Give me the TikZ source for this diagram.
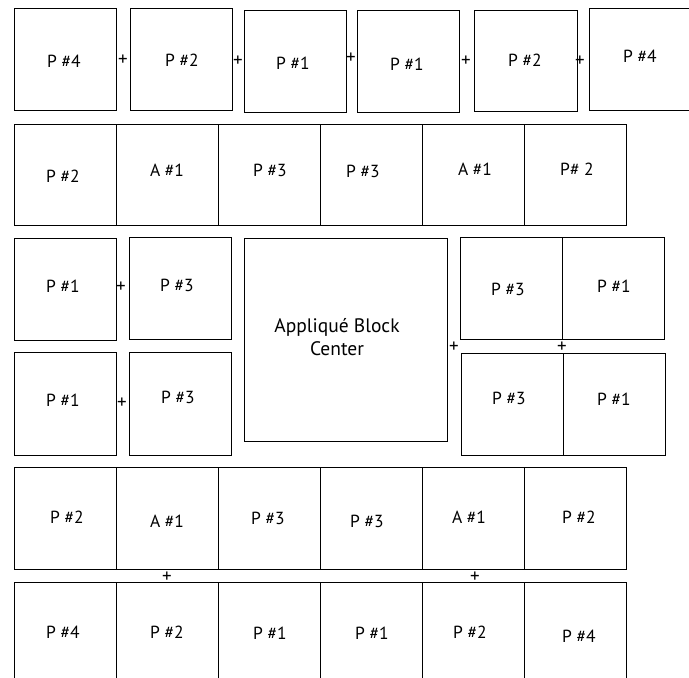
\documentclass[tikz,border=0pt]{standalone}
\usepackage{fontspec}
\setmainfont{PT Sans}
\begin{document}
\begin{tikzpicture}[x=1pt,y=-1pt,
  cell/.style={draw=black, line width=0.9pt, inner sep=0pt, minimum width=102pt, minimum height=102pt},
  lbl/.style={font=\fontsize{17.5}{20}\selectfont, inner sep=0pt, anchor=base},
  plus/.style={font=\fontsize{19}{20}\selectfont, inner sep=0pt, anchor=center}]
\useasboundingbox (0,0) rectangle (689,678);
% ---- Row 1
\node[cell] (a1) at (65,59) {};
\node[cell] (a2) at (181,59) {};
\node[cell] (a3) at (295,61) {};
\node[cell] (a4) at (408,61) {};
\node[cell, minimum width=103pt, minimum height=101pt] (a5) at (525.5,60.5) {};
\node[cell] (a6) at (640,59) {};
\node[lbl] (ta1) at (64,67) {P \#4};
\node[lbl] (ta2) at (182,66) {P \#2};
\node[lbl] (ta3) at (293,69) {P \#1};
\node[lbl] (ta4) at (407,70) {P \#1};
\node[lbl] (ta5) at (525,66) {P \#2};
\node[lbl] (ta6) at (640,62) {P \#4};
\node[plus] (pa1) at (123,60) {+};
\node[plus] (pa2) at (238,61) {+};
\node[plus] (pa3) at (351,58) {+};
\node[plus] (pa4) at (466,61) {+};
\node[plus] (pa5) at (580,61) {+};
% ---- Row 2
\foreach \i/\cx in {1/65,2/167,3/269,4/371,5/473,6/575}
  \node[cell, minimum height=101pt] (b\i) at (\cx,174.5) {};
\node[lbl] (tb1) at (63,182) {P \#2};
\node[lbl] (tb2) at (167,176) {A \#1};
\node[lbl] (tb3) at (270,176) {P \#3};
\node[lbl] (tb4) at (363,177) {P \#3};
\node[lbl] (tb5) at (475,175) {A \#1};
\node[lbl] (tb6) at (577,175) {P\# 2};
% ---- Row 3 left
\node[cell] (c1) at (65,289) {};
\node[cell] (c2) at (180,288.5) {};
\node[cell, minimum height=103pt] (c3) at (65,404) {};
\node[cell, minimum height=103pt] (c4) at (180,403.5) {};
\node[lbl] (tc1) at (63,292) {P \#1};
\node[lbl] (tc2) at (177,291) {P \#3};
\node[lbl] (tc3) at (63,406) {P \#1};
\node[lbl] (tc4) at (178,403) {P \#3};
\node[plus] (pc1) at (121,287) {+};
\node[plus] (pc2) at (122,403) {+};
% ---- Center block
\node[cell, minimum width=203pt, minimum height=203pt] (ctr) at (345.5,339.5) {};
\node[font=\fontsize{19.5}{23}\selectfont, inner sep=0pt, align=center, anchor=center] (tctr) at (337,337) {Appliqu\'e Block\\Center};
\node[plus] (pc3) at (454,347) {+};
% ---- Row 3 right
\node[cell] (d1) at (511,288) {};
\node[cell] (d2) at (613,288) {};
\node[cell] (d3) at (512,404) {};
\node[cell] (d4) at (614,404) {};
\node[lbl] (td1) at (508,295) {P \#3};
\node[lbl] (td2) at (614,292) {P \#1};
\node[lbl] (td3) at (509,404) {P \#3};
\node[lbl] (td4) at (614,405) {P \#1};
\node[plus] (pd1) at (562,347) {+};
% ---- Row 4
\foreach \i/\cx in {1/65,2/167,3/269,4/371,5/473,6/575}
  \node[cell] (e\i) at (\cx,518) {};
\node[lbl] (te1) at (67,523) {P \#2};
\node[lbl] (te2) at (167,527) {A \#1};
\node[lbl] (te3) at (268,524) {P \#3};
\node[lbl] (te4) at (367,527) {P \#3};
\node[lbl] (te5) at (469,523) {A \#1};
\node[lbl] (te6) at (579,523) {P \#2};
\node[plus] (pe1) at (167,577) {+};
\node[plus] (pe2) at (475,577) {+};
% ---- Row 5
\foreach \i/\cx in {1/65,2/167,3/269,4/371,5/473,6/575}
  \node[cell] (f\i) at (\cx,633) {};
\node[lbl] (tf1) at (63,638) {P \#4};
\node[lbl] (tf2) at (167,638) {P \#2};
\node[lbl] (tf3) at (270,639) {P \#1};
\node[lbl] (tf4) at (372,639) {P \#1};
\node[lbl] (tf5) at (470,638) {P \#2};
\node[lbl] (tf6) at (579,642) {P \#4};
\end{tikzpicture}
\end{document}
